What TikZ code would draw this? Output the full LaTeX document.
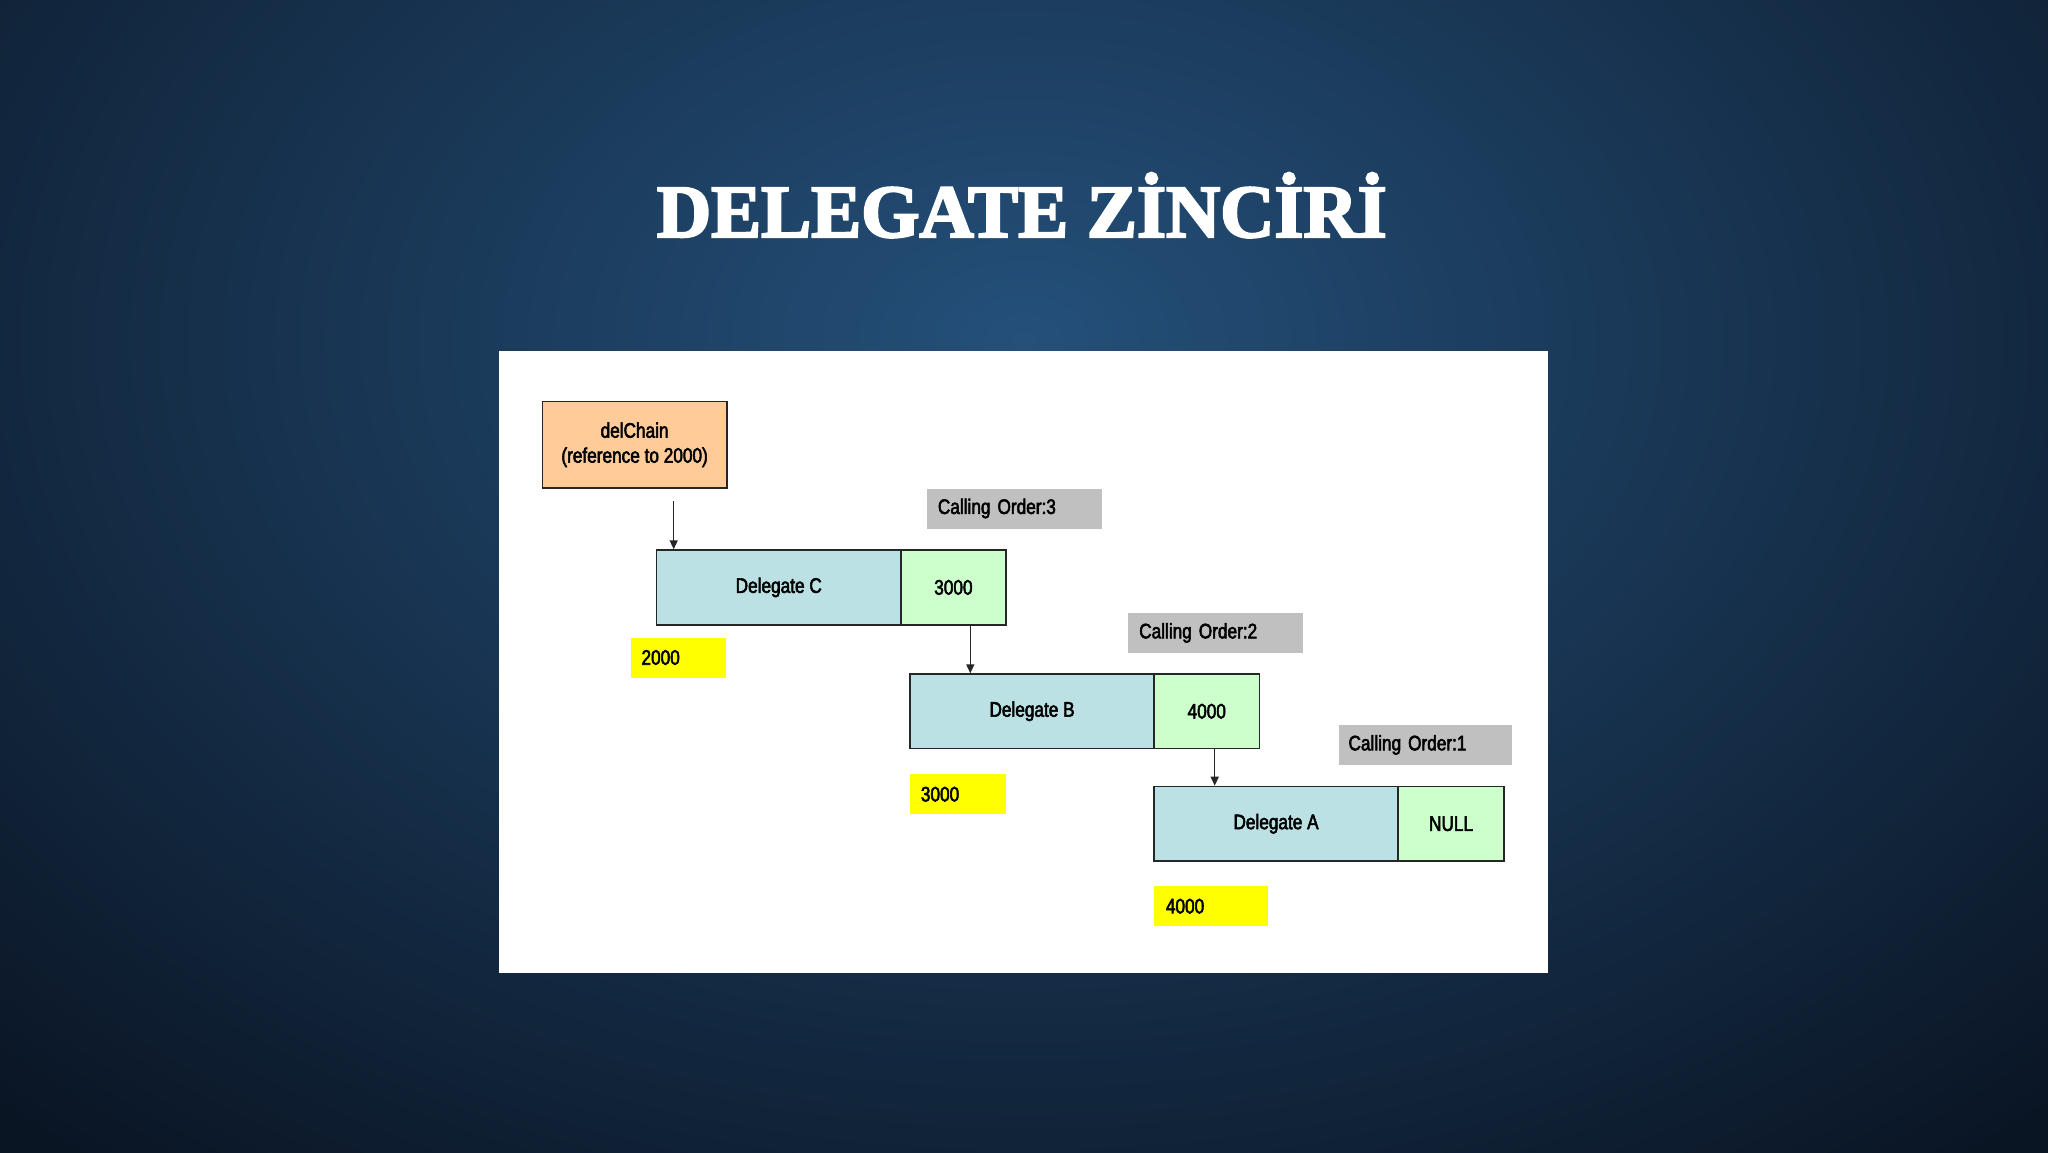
\documentclass[tikz,border=0pt]{standalone}
\usepackage{fontspec}
\setmainfont{Liberation Serif}
\newfontfamily\titlefont[BoldFeatures={FakeBold=3}]{Liberation Serif}
\newfontfamily\diagfont[FakeStretch=0.82,FakeBold=2.5]{Liberation Sans}
\usetikzlibrary{arrows.meta,calc}
\definecolor{bgdark}{HTML}{0A1524}
\definecolor{bglight}{HTML}{24507A}
\definecolor{dlgpeach}{HTML}{FFCC99}
\definecolor{dlgblue}{HTML}{BBE1E4}
\definecolor{dlggreen}{HTML}{CCFFCC}
\definecolor{dlggray}{HTML}{C0C0C0}
\definecolor{dlgyellow}{HTML}{FFFF00}
\newcommand\dsize{\fontsize{21}{25}\selectfont}
\tikzset{
  cellbox/.style={draw=black!85, line width=1.5pt, inner sep=0pt, anchor=north west,
    font=\diagfont\dsize, align=center},
  tagbox/.style={inner xsep=11pt, inner ysep=0pt, anchor=north west,
    font=\diagfont\dsize, align=left, minimum height=40pt},
  chainarrow/.style={draw=black!85, line width=1.5pt, -{Triangle[length=9pt,width=8pt]}},
}
\begin{document}
\begin{tikzpicture}[x=1pt,y=-1pt]
\useasboundingbox (0,0) rectangle (2048,1152);
% background
\fill[bgdark] (-20,-20) rectangle (2068,1172);
\shade[inner color=bglight, outer color=bgdark] (1024,340) ellipse [x radius=1500, y radius=1050];
% title
\node[anchor=base, text=white, font=\titlefont\fontsize{75}{80}\selectfont\bfseries, inner sep=0pt]
  (title) at (1022,237) {DELEGATE ZİNCİRİ};
% panel
\node[fill=white, anchor=north west, inner sep=0pt, minimum width=1048.7pt, minimum height=621.7pt]
  (panel) at (499,351) {};
% delChain
\node[cellbox, fill=dlgpeach, minimum width=184.3pt, minimum height=86.6pt]
  (delchain) at (541.7,400.7) {delChain\\(reference to 2000)};
% Delegate C
\node[cellbox, fill=dlgblue, minimum width=244.6pt, minimum height=74.7pt]
  (delC) at (655.7,549.3) {Delegate C};
\node[cellbox, fill=dlggreen, minimum width=104.7pt, minimum height=74.7pt]
  (nC) at (900.3,549.3) {3000};
% Delegate B
\node[cellbox, fill=dlgblue, minimum width=244pt, minimum height=74.4pt]
  (delB) at (909.3,673.3) {Delegate B};
\node[cellbox, fill=dlggreen, minimum width=105.4pt, minimum height=74.4pt]
  (nB) at (1153.3,673.3) {4000};
% Delegate A
\node[cellbox, fill=dlgblue, minimum width=244pt, minimum height=74.6pt]
  (delA) at (1153.3,785.7) {Delegate A};
\node[cellbox, fill=dlggreen, minimum width=106pt, minimum height=74.6pt]
  (nA) at (1397.3,785.7) {NULL};
% calling order tags
\node[tagbox, fill=dlggray, text width=152.6pt] (co3) at (926.7,488.3) {Calling Order:3};
\node[tagbox, fill=dlggray, text width=152.3pt] (co2) at (1128,612.7) {Calling Order:2};
\node[tagbox, fill=dlggray, inner xsep=10pt, text width=153.4pt] (co1) at (1338.3,724.7) {Calling Order:1};
% address tags
\node[tagbox, fill=dlgyellow, text width=73.7pt] (y2000) at (630.3,637.3) {2000};
\node[tagbox, fill=dlgyellow, inner xsep=10.7pt, text width=73.9pt] (y3000) at (910,774) {3000};
\node[tagbox, fill=dlgyellow, inner xsep=11.7pt, text width=90.3pt] (y4000) at (1154,886) {4000};
% arrows
\coordinate (s0) at (673.7,501);
\coordinate (xb) at (970.3,0);
\coordinate (xa) at (1214.7,0);
\draw[chainarrow] (s0) -- (delC.north -| s0);
\draw[chainarrow] (nC.south -| xb) -- (delB.north -| xb);
\draw[chainarrow] (nB.south -| xa) -- (delA.north -| xa);
\end{tikzpicture}
\end{document}
